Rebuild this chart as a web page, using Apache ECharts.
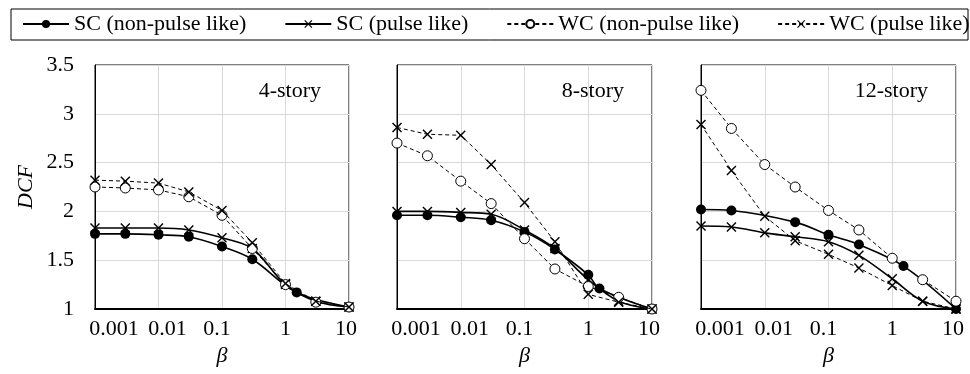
<!DOCTYPE html>
<html>
<head>
<meta charset="utf-8">
<script src="https://cdn.jsdelivr.net/npm/echarts@6/dist/echarts.min.js"></script>
<style>
html, body { margin: 0; padding: 0; background: #fff; }
#mychart { width: 970px; height: 374px; }
</style>
</head>
<body>
<div id="mychart"></div>
<script>
// beta values shared by all curves (null = no marker there)
var betaValues = [0.001, 0.003, 0.01, 0.03, 0.1, 0.3, 1, 1.5, 3, 10];
var xTickLabels = ['0.001', '0.01', '0.1', '1', '10'];
var panelTitles = ['4-story', '8-story', '12-story'];
var seriesNames = ['SC (non-pulse like)', 'SC (pulse like)', 'WC (non-pulse like)', 'WC (pulse like)'];

// 4-story
var sc_np_4 = [1.77, 1.77, 1.76, 1.74, 1.64, 1.51, null, 1.17, null, 1.02];
var sc_p_4  = [1.83, 1.83, 1.83, 1.81, 1.73, 1.62, 1.25, null, 1.08, 1.02];
var wc_np_4 = [2.25, 2.24, 2.22, 2.15, 1.96, 1.62, 1.25, null, 1.07, 1.02];
var wc_p_4  = [2.32, 2.31, 2.29, 2.20, 2.01, 1.68, 1.26, null, 1.08, 1.02];
// 8-story
var sc_np_8 = [1.96, 1.96, 1.94, 1.91, 1.79, 1.61, 1.35, 1.21, null, 1.00];
var sc_p_8  = [2.00, 2.00, 1.99, 1.97, 1.81, 1.62, 1.30, null, 1.08, 1.00];
var wc_np_8 = [2.70, 2.57, 2.31, 2.08, 1.72, 1.41, 1.23, null, 1.12, 1.00];
var wc_p_8  = [2.86, 2.79, 2.78, 2.48, 2.09, 1.69, 1.15, null, 1.07, 1.00];
// 12-story
var sc_np_12 = [2.02, 2.01, null, 1.89, 1.76, 1.66, null, 1.44, null, 1.00];
var sc_p_12  = [1.85, 1.84, 1.78, 1.74, 1.69, 1.55, 1.31, null, 1.08, 1.00];
var wc_np_12 = [3.24, 2.85, 2.48, 2.25, 2.01, 1.81, 1.52, null, 1.30, 1.08];
var wc_p_12  = [2.89, 2.42, 1.95, 1.70, 1.56, 1.42, 1.24, null, 1.08, 1.00];

var panelData = [
    [sc_np_4, sc_p_4, wc_np_4, wc_p_4],
    [sc_np_8, sc_p_8, wc_np_8, wc_p_8],
    [sc_np_12, sc_p_12, wc_np_12, wc_p_12]
];

var FONT = 'Liberation Serif';
var crossPath = 'path://M0,1L1,0L5,4L9,0L10,1L6,5L10,9L9,10L5,6L1,10L0,9L4,5Z';
var gridLefts = [95, 397, 701];
var gridWidths = [254, 255, 255];

function toPoints(arr) {
    var pts = [];
    for (var i = 0; i < betaValues.length; i++) {
        if (arr[i] !== null) pts.push([betaValues[i], arr[i]]);
    }
    return pts;
}

// series look, same order as seriesNames
function seriesStyle(k) {
    if (k == 0) {
        return { symbol: 'circle', symbolSize: 10, smooth: 0.35,
            itemStyle: { color: '#000' }, lineStyle: { color: '#000', width: 1.6, type: 'solid' } };
    } else if (k == 1) {
        return { symbol: crossPath, symbolSize: 10, smooth: 0.35,
            itemStyle: { color: '#000' }, lineStyle: { color: '#000', width: 1.6, type: 'solid' } };
    } else if (k == 2) {
        return { symbol: 'circle', symbolSize: 10, smooth: false,
            itemStyle: { color: '#fff', borderColor: '#000', borderWidth: 1 }, lineStyle: { color: '#000', width: 1, type: [4, 3] } };
    }
    return { symbol: crossPath, symbolSize: 10, smooth: false,
        itemStyle: { color: '#000' }, lineStyle: { color: '#000', width: 1, type: [4, 3] } };
}

var xRich = {
    a: { fontFamily: FONT, fontSize: 22, color: '#000', padding: [0, 0, 0, 38] },
    b: { fontFamily: FONT, fontSize: 22, color: '#000', padding: [0, 0, 0, 18] },
    c: { fontFamily: FONT, fontSize: 22, color: '#000', padding: [0, 10, 0, 0] },
    d: { fontFamily: FONT, fontSize: 22, color: '#000' },
    e: { fontFamily: FONT, fontSize: 22, color: '#000', padding: [0, 6, 0, 0] }
};
var richKeys = ['a', 'b', 'c', 'd', 'e'];

var grids = [], xAxes = [], yAxes = [], series = [], graphics = [];

for (var p = 0; p < 3; p++) {
    grids.push({
        left: gridLefts[p], width: gridWidths[p], top: 65, height: 244,
        show: true, borderColor: '#000', borderWidth: 1
    });
    xAxes.push({
        gridIndex: p, type: 'log', logBase: 10, min: 0.001, max: 10,
        name: 'β', nameLocation: 'middle', nameGap: 36,
        nameTextStyle: { fontFamily: FONT, fontSize: 22, fontStyle: 'italic', color: '#000' },
        axisLine: { lineStyle: { color: '#000', width: 2 } },
        axisTick: { show: false },
        minorTick: { show: false },
        splitLine: { show: true, lineStyle: { color: '#d9d9d9', width: 1 } },
        axisLabel: {
            margin: 9, color: '#000', fontFamily: FONT, fontSize: 22,
            formatter: function (v) {
                var idx = Math.round(Math.log(v) / Math.LN10) + 3;
                return '{' + richKeys[idx] + '|' + xTickLabels[idx] + '}';
            },
            rich: xRich
        }
    });
    yAxes.push({
        gridIndex: p, type: 'value', min: 1, max: 3.5, interval: 0.5,
        name: p == 0 ? 'DCF' : '', nameLocation: 'middle', nameGap: 58,
        nameTextStyle: { fontFamily: FONT, fontSize: 22, fontStyle: 'italic', color: '#000' },
        axisLine: { show: true, lineStyle: { color: '#000', width: 1 } },
        axisTick: { show: false },
        splitLine: { show: true, lineStyle: { color: '#d9d9d9', width: 1 } },
        axisLabel: { show: p == 0, margin: 21, color: '#000', fontFamily: FONT, fontSize: 22 }
    });
    for (var k = 0; k < 4; k++) {
        var st = seriesStyle(k);
        series.push({
            name: seriesNames[k], type: 'line', xAxisIndex: p, yAxisIndex: p,
            data: toPoints(panelData[p][k]),
            symbol: st.symbol, symbolSize: st.symbolSize, smooth: st.smooth,
            showAllSymbol: true, animation: false,
            itemStyle: st.itemStyle, lineStyle: st.lineStyle,
            z: 2 + k
        });
    }
    graphics.push({
        type: 'text', right: 970 - (gridLefts[p] + gridWidths[p]) + 28, top: 80,
        style: { text: panelTitles[p], font: '22px "Liberation Serif"', fill: '#000' }
    });
}

// legend frame
graphics.push({
    type: 'rect', shape: { x: 11, y: 9, width: 957, height: 31 },
    style: { fill: 'none', stroke: '#000', lineWidth: 1 }, z: -1
});

var myChart = echarts.init(document.getElementById('mychart'));
myChart.setOption({
    animation: false,
    backgroundColor: '#fff',
    legend: {
        data: seriesNames, left: 22, top: 13, padding: 0,
        itemWidth: 46, itemHeight: 10, itemGap: 38,
        textStyle: { fontFamily: FONT, fontSize: 22, color: '#000' }
    },
    grid: grids,
    xAxis: xAxes,
    yAxis: yAxes,
    series: series,
    graphic: graphics
});
</script>
</body>
</html>
